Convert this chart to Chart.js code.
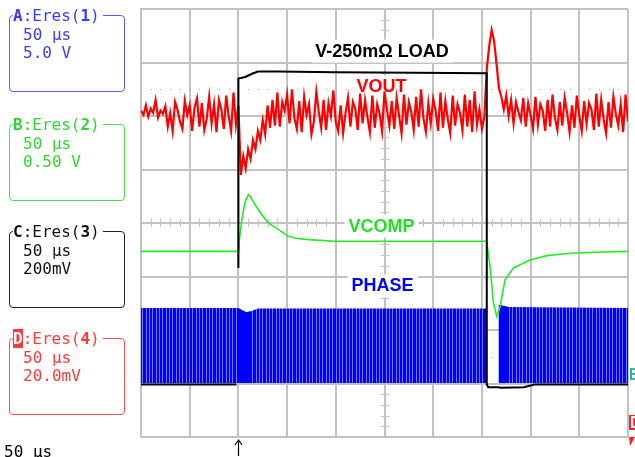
<!DOCTYPE html>
<html>
<head>
<meta charset="utf-8">
<script src="https://cdn.jsdelivr.net/npm/chart.js@4.4.0/dist/chart.umd.min.js"></script>
<style>
  body { margin: 0; background: #fff; }
  #wrap { position: relative; width: 635px; height: 457px; overflow: hidden;
          font-family: "DejaVu Sans Mono", monospace; font-size: 16px; }
  #scope { position: absolute; left: 0; top: 0; }
  .ch { position: absolute; left: 9px; width: 116px; height: 77px; border: 1.5px solid;
        border-radius: 4px; box-sizing: border-box; }
  .ch div { position: absolute; white-space: pre; line-height: 16px; }
  .hd { top: -8px; left: 3px; background: #fff; padding-right: 3px; }
  .l1 { top: 11px; left: 13px; }
  .l2 { top: 29px; left: 13px; }
  .inv { background: #ff3a3a; color: #fff; }
  #timebase { position: absolute; left: 4px; top: 444px; line-height: 16px; }
</style>
</head>
<body>
<div id="wrap">
  <canvas id="scope" width="635" height="457"></canvas>

  <div class="ch" style="top:15px;color:#3a3aff;border-color:#5a5aff">
    <div class="hd"><b>A</b>:Eres(<b>1</b>)</div>
    <div class="l1">50 µs</div>
    <div class="l2">5.0 V</div>
  </div>
  <div class="ch" style="top:124px;color:#2fd82f;border-color:#45e045">
    <div class="hd"><b>B</b>:Eres(<b>2</b>)</div>
    <div class="l1">50 µs</div>
    <div class="l2">0.50 V</div>
  </div>
  <div class="ch" style="top:231px;color:#111;border-color:#222">
    <div class="hd"><b>C</b>:Eres(<b>3</b>)</div>
    <div class="l1">50 µs</div>
    <div class="l2">200mV</div>
  </div>
  <div class="ch" style="top:338px;color:#ff3a3a;border-color:#ff5050">
    <div class="hd"><b class="inv">D</b>:Eres(<b>4</b>)</div>
    <div class="l1">50 µs</div>
    <div class="l2">20.0mV</div>
  </div>
  <div id="timebase">50 µs</div>
</div>

<script>
// all traces in screen divisions (8 vertical, centre = 0), time in µs from trigger
const GRID = '#c2c2c2';
const CENTER_US = 150;

// VOUT (ch D), sampled every 2.5 µs from -100 µs
const voutStartUs = -100;
const voutStepUs = 2.5;
const voutDiv = [
  // before the load step
  2.10, 2.02, 2.20, 1.99, 2.14, 2.06, 2.30, 1.97, 2.10, 2.04,
  2.18, 1.80, 2.05, 1.72, 2.26, 2.12, 1.90, 1.76, 2.28, 2.02,
  2.20, 1.72, 2.16, 2.33, 1.80, 2.24, 1.74, 1.95, 2.36, 1.86,
  2.22, 1.70, 2.30, 2.12, 1.76, 2.38, 2.00, 1.72, 2.44, 1.84,
  2.20,
  // undershoot and recovery
  0.90, 1.25, 1.02, 1.38, 1.20, 1.55, 1.38, 1.72, 1.55, 1.92,
  1.66, 2.20, 1.78, 2.30, 1.82, 2.44,
  // loaded
  1.80, 2.26, 2.10, 2.40, 1.86, 2.50, 1.96, 1.76, 2.28, 1.70,
  2.36, 2.02, 2.22, 1.66, 1.90, 2.45, 2.08, 1.78, 2.30, 1.74,
  2.24, 2.00, 2.48, 1.88, 1.72, 2.20, 1.68, 2.06, 2.34, 1.80,
  2.26, 2.14, 1.74, 2.42, 1.86, 2.30, 1.98, 1.70, 2.38, 1.78,
  2.22, 2.04, 1.72, 2.46, 2.12, 1.82, 2.28, 1.76, 2.34, 2.00,
  1.68, 2.40, 1.84, 2.26, 2.08, 1.74, 2.36, 1.80, 2.50, 1.96,
  1.70, 2.24, 1.86, 2.32, 2.10, 1.72, 2.44, 1.78, 2.28, 1.94,
  1.68, 2.38, 1.82, 2.22, 2.06, 1.74, 2.40, 1.80, 2.30, 1.70,
  2.46, 1.84, 2.12, 1.76, 1.98,
  // overshoot on load release
  2.88, 3.30, 3.61, 3.40, 2.98, 2.52, 2.36,
  // unloaded again
  2.12, 2.38, 2.00, 2.30, 1.86, 2.26, 2.08, 1.92, 2.34, 1.80,
  2.24, 2.02, 1.76, 2.36, 1.84, 2.22, 2.10, 1.72, 2.30, 1.80,
  2.40, 1.96, 1.74, 2.26, 1.82, 2.34, 2.06, 1.70, 2.20, 1.78,
  2.38, 2.00, 1.72, 2.28, 1.86, 2.24, 2.12, 1.74, 2.42, 1.80,
  2.30, 1.94, 1.68, 2.26, 1.78, 2.36, 2.04, 1.82, 2.22, 1.70,
  2.40, 1.90
];

// VCOMP (ch B)
const vcompTimesUs = [-100, 0, 0.5, 1, 3.5, 6.9, 10.3, 12, 17.1, 24, 30.8, 41.1, 51.3, 61, 71.6,
  99.3, 148.6, 200, 255, 255.6, 258.4, 261.8, 265.3, 268.7, 273.8, 282.3, 299.5, 316.6, 337.2, 357.7, 400];
const vcompDiv = [-0.53, -0.53, -0.50, -0.31, 0.06, 0.40, 0.53, 0.50, 0.34, 0.155, 0.0, -0.125, -0.25, -0.29, -0.31,
  -0.34, -0.34, -0.34, -0.34, -0.44, -0.81, -1.49, -1.75, -1.56, -1.06, -0.84, -0.69, -0.61, -0.57, -0.55, -0.53];

// load current (ch C)
const loadTimesUs = [-100, -2, -1.9, 0, 0, 7, 14, 20, 40, 100, 180, 255, 255, 256.5, 267, 269, 293, 304, 400];
const loadDiv = [-3.02, -3.02, null, -0.84, 2.70, 2.73, 2.79, 2.83, 2.83, 2.82, 2.81, 2.80, -3.02, -3.07, -3.07, -3.08, -3.07, -3.02, -3.02];

// PHASE (ch A): top of the switching band, low level and the stretches of continuous conduction
const phaseLowDiv = -2.99;
const phaseTimesUs = [-100, 0, 3, 8, 13, 20, 255, 255.3, 267, 267.3, 277, 400];
const phaseTopDiv = [-1.59, -1.59, -1.62, -1.67, -1.65, -1.60, -1.60, -2.99, -2.99, -1.53, -1.57, -1.59];
const phaseSolidTimesUs = [[0, 3, 8, 13], [267.3, 277]];
const phaseSolidDiv = [[-1.59, -1.62, -1.67, -1.65], [-1.53, -1.57]];

const traceLabels = [
  { text: 'V-250mΩ LOAD', t: 147.5, v: 3.23, color: '#000' },
  { text: 'VOUT', t: 147, v: 2.56, color: '#ff0000' },
  { text: 'VCOMP', t: 147, v: -0.04, color: '#22e022' },
  { text: 'PHASE', t: 148, v: -1.16, color: '#0000ff' }
];

const pts = (xs, ys) => xs.map((x, i) => ({ x: x, y: ys[i] }));
const voutPts = voutDiv.map((v, i) => ({ x: voutStartUs + i * voutStepUs, y: v }));

// dense switching edges rendered as a stripe texture
function stripes(dark, light, lightCols, width) {
  const c = document.createElement('canvas');
  c.width = width; c.height = 1;
  const g = c.getContext('2d');
  g.fillStyle = dark; g.fillRect(0, 0, width, 1);
  g.fillStyle = light;
  lightCols.forEach(col => g.fillRect(col, 0, 1, 1));
  return g.createPattern(c, 'repeat');
}

const scopeDecor = {
  id: 'scopeDecor',
  beforeDatasetsDraw(chart) {
    const { ctx, scales: { x, y } } = chart;
    const cx = Math.round(x.getPixelForValue(CENTER_US));
    const cy = Math.round(y.getPixelForValue(0));
    ctx.save();
    ctx.strokeStyle = GRID;
    ctx.lineWidth = 1;
    ctx.beginPath();
    for (let i = 0; i <= 50; i++) {
      const px = Math.round(x.getPixelForValue(-100 + i * 10)) + 0.5;
      ctx.moveTo(px, cy - 4); ctx.lineTo(px, cy + 4);
    }
    for (let i = -20; i <= 20; i++) {
      const py = Math.round(y.getPixelForValue(i / 5)) + 0.5;
      ctx.moveTo(cx - 4, py); ctx.lineTo(cx + 4, py);
    }
    ctx.stroke();
    // dotted rows at +/-2.5 div
    ctx.fillStyle = '#a8a8a8';
    for (const v of [2.5, -2.5]) {
      const py = Math.round(y.getPixelForValue(v));
      for (let i = 1; i < 50; i++) {
        ctx.fillRect(Math.round(x.getPixelForValue(-100 + i * 10)), py, 1, 1);
      }
    }
    // trace names on white backing
    ctx.font = 'bold 18px "Liberation Sans", Arial, sans-serif';
    for (const l of traceLabels) {
      const w = ctx.measureText(l.text).width;
      const px = x.getPixelForValue(l.t);
      const base = y.getPixelForValue(l.v) + 6.4;
      ctx.fillStyle = '#fff';
      ctx.fillRect(px - w / 2 - 4, base - 17, w + 8, 23);
      ctx.fillStyle = l.color;
      ctx.textAlign = 'center';
      ctx.fillText(l.text, px, base);
    }
    ctx.restore();
  },
  afterDraw(chart) {
    const { ctx, scales: { x } } = chart;
    ctx.save();
    // trigger arrow
    const tx = Math.round(x.getPixelForValue(0)) + 0.5;
    ctx.strokeStyle = '#000';
    ctx.lineWidth = 1.2;
    ctx.beginPath();
    ctx.moveTo(tx, 456); ctx.lineTo(tx, 440);
    ctx.moveTo(tx - 3.5, 445); ctx.lineTo(tx, 440); ctx.lineTo(tx + 3.5, 445);
    ctx.stroke();
    // channel markers on the right edge
    ctx.font = 'bold 15px "DejaVu Sans Mono", monospace';
    ctx.fillStyle = '#2bb3a0';
    ctx.fillText('B', 629, 380);
    ctx.fillStyle = '#ff2020';
    ctx.fillRect(629, 415, 6, 15);
    ctx.fillStyle = '#fff';
    ctx.fillText('D', 630, 428);
    ctx.fillStyle = '#ff2020';
    ctx.beginPath();
    ctx.moveTo(629, 437); ctx.lineTo(635, 437); ctx.lineTo(630, 446);
    ctx.closePath(); ctx.fill();
    ctx.restore();
  }
};

const canvas = document.getElementById('scope');
const phaseFill = stripes('#0000ff', '#7878ff', [2, 6, 9], 10);

new Chart(canvas, {
  type: 'line',
  data: {
    datasets: [
      { label: 'Load', data: pts(loadTimesUs, loadDiv), borderColor: '#000', borderWidth: 2, order: 0 },
      { label: 'VCOMP', data: pts(vcompTimesUs, vcompDiv), borderColor: '#22ee22', borderWidth: 1.6, order: 1 },
      { label: 'VOUT', data: voutPts, borderColor: '#ff0000', borderWidth: 2.2, order: 2 },
      { label: 'PHASE solid 1', data: pts(phaseSolidTimesUs[0], phaseSolidDiv[0]), borderWidth: 0,
        backgroundColor: '#0000ff', fill: { value: phaseLowDiv }, order: 3 },
      { label: 'PHASE solid 2', data: pts(phaseSolidTimesUs[1], phaseSolidDiv[1]), borderWidth: 0,
        backgroundColor: '#0000ff', fill: { value: phaseLowDiv }, order: 3 },
      { label: 'PHASE', data: pts(phaseTimesUs, phaseTopDiv), borderWidth: 0,
        backgroundColor: phaseFill, fill: { value: phaseLowDiv }, order: 4 }
    ]
  },
  options: {
    responsive: false,
    animation: false,
    devicePixelRatio: 1,
    layout: { padding: { left: 141, right: 7, top: 9, bottom: 20 } },
    elements: { point: { radius: 0 }, line: { tension: 0 } },
    plugins: { legend: { display: false }, tooltip: { enabled: false } },
    scales: {
      x: {
        type: 'linear', min: -100, max: 400,
        ticks: { display: false, stepSize: 50 },
        grid: { color: GRID, lineWidth: 2, drawTicks: false },
        border: { color: GRID, width: 2 }
      },
      y: {
        min: -4, max: 4,
        ticks: { display: false, stepSize: 1 },
        grid: { color: GRID, lineWidth: 2, drawTicks: false },
        border: { color: GRID, width: 2 }
      }
    }
  },
  plugins: [scopeDecor]
});
</script>
</body>
</html>
